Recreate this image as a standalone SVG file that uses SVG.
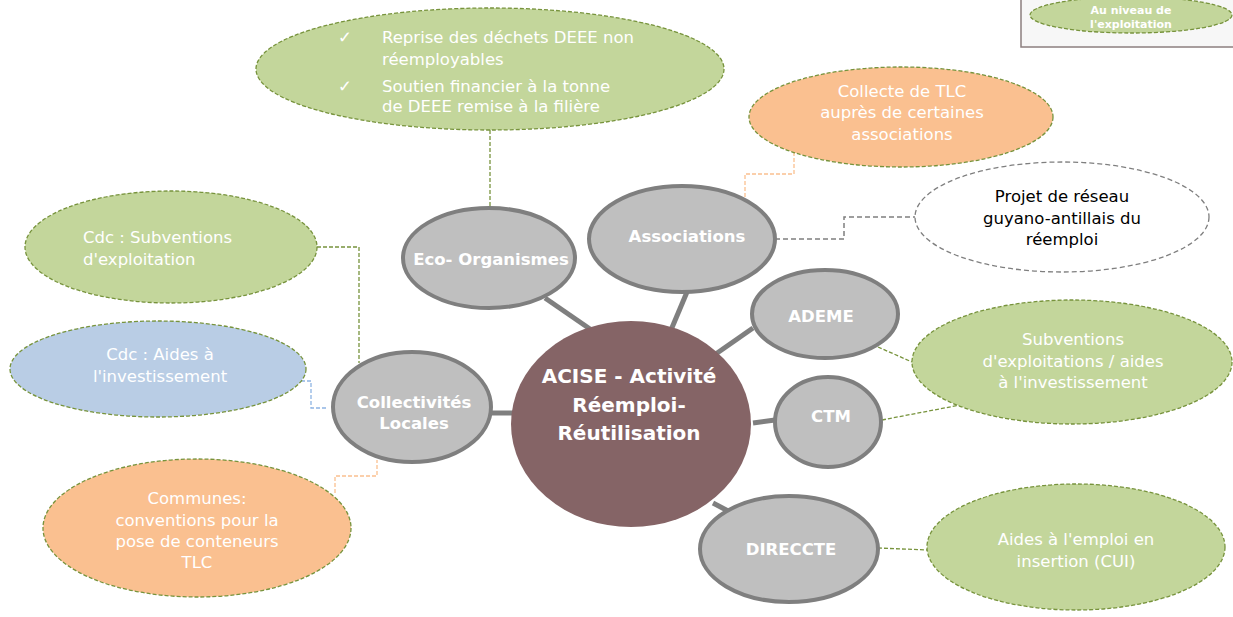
<svg xmlns="http://www.w3.org/2000/svg" width="1233" height="617" viewBox="0 0 1233 617">
<style>
.sat{stroke:#77933C;stroke-width:1.3;stroke-dasharray:4 2}
.green{fill:#C3D69B}
.orange{fill:#FAC090}
.blue{fill:#B9CDE5}
.node{fill:#BFBFBF;stroke:#7F7F7F;stroke-width:4}
.t{font-family:"DejaVu Sans",sans-serif;font-size:16.5px;fill:#FFFFFF;text-anchor:middle}
.tl{font-family:"DejaVu Sans",sans-serif;font-size:16.5px;fill:#FFFFFF}
.tb{font-family:"DejaVu Sans",sans-serif;font-size:16.5px;fill:#000000;text-anchor:middle}
.nb{font-family:"DejaVu Sans",sans-serif;font-weight:bold;font-size:16.5px;fill:#FFFFFF;text-anchor:middle}
.cb{font-family:"DejaVu Sans",sans-serif;font-weight:bold;font-size:20px;fill:#FFFFFF;text-anchor:middle}
.lg{font-family:"DejaVu Sans",sans-serif;font-weight:bold;font-size:11px;fill:#FFFFFF;text-anchor:middle}
.solid{stroke:#7F7F7F;stroke-width:5;fill:none}
.dg{stroke:#77933C;stroke-width:1.3;stroke-dasharray:4 2;fill:none}
.do{stroke:#FAC090;stroke-width:1.3;stroke-dasharray:4 2;fill:none}
.dgr{stroke:#7F7F7F;stroke-width:1.5;stroke-dasharray:5 3;fill:none}
.db{stroke:#8EB4E3;stroke-width:1.3;stroke-dasharray:4 2;fill:none}
</style>
<rect width="1233" height="617" fill="#FFFFFF"/>
<g id="connectors">
<line class="solid" x1="545" y1="298" x2="590" y2="329"/>
<line class="solid" x1="687" y1="292" x2="671" y2="330"/>
<line class="solid" x1="753" y1="328" x2="710" y2="358"/>
<line class="solid" x1="775" y1="420" x2="753" y2="423"/>
<line class="solid" x1="713" y1="503" x2="730" y2="512"/>
<line class="solid" x1="490" y1="413" x2="513" y2="413"/>
<path class="dg" d="M490,130 V208"/>
<path class="do" d="M745,197 V174 H794 V152"/>
<path class="dgr" d="M775,239 H844 V217 H915"/>
<path class="dg" d="M317,247 H359 V363"/>
<path class="db" d="M295,381 H311 V408 H327"/>
<path class="do" d="M335,493 V476 H377 V460"/>
<path class="dg" d="M878,347 L912,362"/>
<path class="dg" d="M882,420 L960,405"/>
<path class="dg" d="M878,548 L927,550"/>
</g>
<g id="legend">
<rect x="1021" y="-2" width="214" height="49" fill="#F7F7F7" stroke="#8C7F7F" stroke-width="1.5"/>
<ellipse class="sat green" cx="1131" cy="15" rx="101" ry="18"/>
<text class="lg" x="1131" y="14">Au niveau de</text>
<text class="lg" x="1131" y="28">l'exploitation</text>
</g>
<g id="eco-desc">
<ellipse class="sat green" cx="490" cy="69" rx="234" ry="61"/>
<text class="tl" x="338" y="43">✓</text>
<text class="tl" x="382" y="43">Reprise des déchets DEEE non</text>
<text class="tl" x="382" y="65">réemployables</text>
<text class="tl" x="338" y="92">✓</text>
<text class="tl" x="382" y="92">Soutien financier à la tonne</text>
<text class="tl" x="382" y="112">de DEEE remise à la filière</text>
</g>
<g id="collecte">
<ellipse class="sat orange" cx="901" cy="117" rx="152" ry="50"/>
<text class="t" x="902" y="97">Collecte de TLC</text>
<text class="t" x="902" y="118">auprès de certaines</text>
<text class="t" x="902" y="140">associations</text>
</g>
<g id="projet">
<ellipse cx="1062" cy="217" rx="147" ry="55" fill="#FFFFFF" stroke="#7F7F7F" stroke-width="1.3" stroke-dasharray="5 3"/>
<text class="tb" x="1062" y="202">Projet de réseau</text>
<text class="tb" x="1062" y="224">guyano-antillais du</text>
<text class="tb" x="1062" y="245">réemploi</text>
</g>
<g id="cdc-subventions">
<ellipse class="sat green" cx="171" cy="247" rx="146" ry="56"/>
<text class="tl" x="83" y="243">Cdc : Subventions</text>
<text class="tl" x="83" y="265">d'exploitation</text>
</g>
<g id="cdc-aides">
<ellipse class="sat blue" cx="158" cy="369" rx="148" ry="48"/>
<text class="t" x="160" y="360">Cdc : Aides à</text>
<text class="t" x="160" y="382">l'investissement</text>
</g>
<g id="communes">
<ellipse class="sat orange" cx="197" cy="528" rx="154" ry="69"/>
<text class="t" x="197" y="504">Communes:</text>
<text class="t" x="197" y="526">conventions pour la</text>
<text class="t" x="197" y="547">pose de conteneurs</text>
<text class="t" x="197" y="568">TLC</text>
</g>
<g id="subventions">
<ellipse class="sat green" cx="1072" cy="362" rx="160" ry="62"/>
<text class="t" x="1073" y="345">Subventions</text>
<text class="t" x="1073" y="367">d'exploitations / aides</text>
<text class="t" x="1073" y="388">à l'investissement</text>
</g>
<g id="aides-emploi">
<ellipse class="sat green" cx="1076" cy="547" rx="149" ry="63"/>
<text class="t" x="1076" y="545">Aides à l'emploi en</text>
<text class="t" x="1076" y="567">insertion (CUI)</text>
</g>
<g id="eco-organismes">
<ellipse class="node" cx="489" cy="258" rx="86" ry="50"/>
<text class="nb" x="491" y="265">Eco- Organismes</text>
</g>
<g id="associations">
<ellipse class="node" cx="682" cy="239" rx="93" ry="53"/>
<text class="nb" x="687" y="242">Associations</text>
</g>
<g id="ademe">
<ellipse class="node" cx="825" cy="314" rx="73" ry="44"/>
<text class="nb" x="821" y="322">ADEME</text>
</g>
<g id="ctm">
<ellipse class="node" cx="828" cy="422" rx="53" ry="45"/>
<text class="nb" x="831" y="422">CTM</text>
</g>
<g id="direccte">
<ellipse class="node" cx="789" cy="549" rx="89" ry="53"/>
<text class="nb" x="791" y="555">DIRECCTE</text>
</g>
<g id="collectivites">
<ellipse class="node" cx="412" cy="407" rx="79" ry="55"/>
<text class="nb" x="414" y="408">Collectivités</text>
<text class="nb" x="414" y="429">Locales</text>
</g>
<g id="acise">
<ellipse cx="631" cy="424" rx="120" ry="103" fill="#856466"/>
<text class="cb" x="629" y="383">ACISE - Activité</text>
<text class="cb" x="629" y="412">Réemploi-</text>
<text class="cb" x="629" y="440">Réutilisation</text>
</g>
</svg>
